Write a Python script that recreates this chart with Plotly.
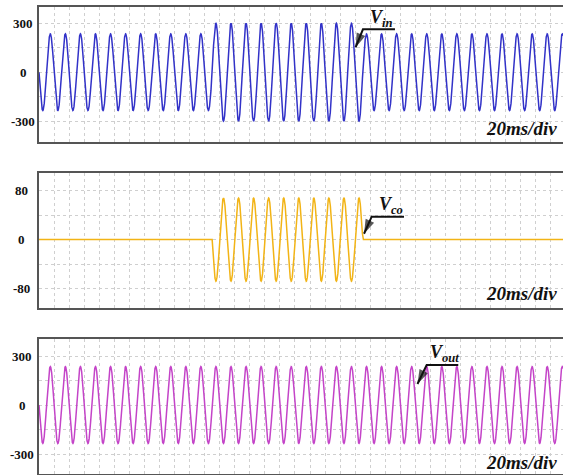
import numpy as np
import plotly.graph_objects as go

# ---- data ----
FREQ_HZ = 50                      # 20 ms period (one grid division)
T_END_MS = 696                    # visible time span
seg_start_ms = [0, 230, 430]      # swell / compensation starts and ends
vin_amp = [235, 300, 235]         # input voltage peak per segment
vco_amp = [0, 68, 0]              # compensation voltage peak per segment
vout_amp = [235, 235, 235]        # output voltage peak per segment

ticks_top = [300, 0, -300]
ticks_mid = [80, 0, -80]
ticks_bot = [300, 0, -300]

t = np.arange(0, T_END_MS + 0.1, 0.1)
phase = np.sin(2 * np.pi * FREQ_HZ * t / 1000.0)


def envelope(amps):
    a = np.zeros_like(t)
    for s, A in zip(seg_start_ms, amps):
        a[t >= s] = A
    return a


vin = -envelope(vin_amp) * phase
vco = envelope(vco_amp) * phase
vout = -envelope(vout_amp) * phase

W, H = 563, 475
C_IN, C_CO, C_OUT = "#3232c8", "#f2b416", "#c444c8"
FONT = "Liberation Serif"

fig = go.Figure()
fig.add_trace(go.Scatter(x=t, y=vin, mode="lines", line=dict(color=C_IN, width=1.5),
                         xaxis="x", yaxis="y", showlegend=False, hoverinfo="skip"))
fig.add_trace(go.Scatter(x=t, y=vco, mode="lines", line=dict(color=C_CO, width=1.5),
                         xaxis="x2", yaxis="y2", showlegend=False, hoverinfo="skip"))
fig.add_trace(go.Scatter(x=t, y=vout, mode="lines", line=dict(color=C_OUT, width=1.5),
                         xaxis="x3", yaxis="y3", showlegend=False, hoverinfo="skip"))


def px_dom(top, bot):
    return [1 - bot / H, 1 - top / H]


xdom = [39 / W, 1]
grid = dict(showgrid=True, gridcolor="#cfcfcf", gridwidth=1, griddash="dot",
            zeroline=False, showticklabels=False, ticks="",
            linecolor="#555555", linewidth=2, showline=True)

layout = dict(width=W, height=H, margin=dict(l=0, r=0, t=0, b=0),
              paper_bgcolor="white", plot_bgcolor="white", showlegend=False)
ydefs = [([-428, 400], 150, px_dom(7, 142)),
         ([-112, 109], 40, px_dom(173, 308)),
         ([-422, 404], 150, px_dom(339, 474))]
for i, (rng, dt, dom) in enumerate(ydefs):
    sfx = "" if i == 0 else str(i + 1)
    layout["xaxis" + sfx] = dict(domain=xdom, range=[0, T_END_MS], dtick=20, tick0=0,
                                 anchor="y" + sfx, mirror=True, **grid)
    layout["yaxis" + sfx] = dict(domain=dom, range=rng, dtick=dt, tick0=0,
                                 anchor="x" + sfx, mirror=False, **grid)
fig.update_layout(**layout)

ann = []
# tick labels (centered, bold serif)
for ticks, yref, xc in [(ticks_top, "y", 23), (ticks_mid, "y2", 21), (ticks_bot, "y3", 22)]:
    for v in ticks:
        ann.append(dict(x=xc / W, xref="paper", y=v, yref=yref, text="<b>%d</b>" % v,
                        showarrow=False, xanchor="center", yanchor="middle",
                        font=dict(family=FONT, size=13, color="#111")))

# time-base labels
for ypx in [128.3, 293.7, 462.3]:
    ann.append(dict(x=559 / W, xref="paper", y=1 - ypx / H, yref="paper",
                    text="<b><i>20ms/div</i></b>", showarrow=False,
                    xanchor="right", yanchor="middle",
                    font=dict(family=FONT, size=19, color="#111")))

# signal name callouts: (text, xref, yref, text x, text y, tip x, tip y, tail x, tail y, line end x)
callouts = [
    ("in", "x", "y", 437, 329, 420.5, 152, 430.3, 263, 472.8),
    ("co", "x2", "y2", 449, 56.6, 431.7, 9.5, 441.9, 37.5, 484.8),
    ("out", "x3", "y3", 517, 318, 502.7, 128.8, 514.9, 244.7, 556.9),
]
for sub, xr, yr, tx, ty, px_, py_, ax_, ay_, lx in callouts:
    ann.append(dict(x=tx, y=ty, xref=xr, yref=yr,
                    text="<b><i>V</i></b><sub><b><i>%s</i></b></sub>" % sub,
                    showarrow=False, xanchor="left", yanchor="middle",
                    font=dict(family=FONT, size=18, color="#111")))
    # underline + arrow shaft + arrowhead as one small trace
    fig.add_trace(go.Scatter(x=[lx, ax_, px_], y=[ay_, ay_, py_], mode="lines+markers",
                             xaxis=xr, yaxis=yr, showlegend=False, hoverinfo="skip",
                             line=dict(color="#111", width=2),
                             marker=dict(symbol="arrow", size=[0, 0, 15], color="#111",
                                         angleref="previous", line=dict(width=0))))

fig.update_layout(annotations=ann)
fig.write_html("out.html")
